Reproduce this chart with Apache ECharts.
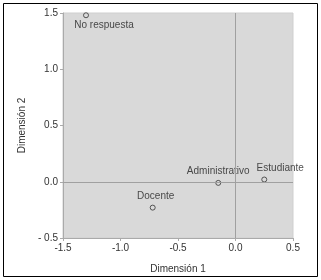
<!DOCTYPE html>
<html>
<head>
<meta charset="utf-8">
<script src="https://cdn.jsdelivr.net/npm/echarts@6/dist/echarts.min.js"></script>
<style>
  html, body { margin: 0; padding: 0; background: #fff; }
  #main { width: 321px; height: 280px; }
</style>
</head>
<body>
<div id="main"></div>
<script>
// categorias y coordenadas (dimension 1, dimension 2)
var categorias = ["No respuesta", "Docente", "Administrativo", "Estudiante"];
var dim1 = [-1.30, -0.72, -0.15, 0.25];
var dim2 = [1.48, -0.23, -0.01, 0.02];
// desplazamiento de cada etiqueta respecto al punto
var labelPos = ["bottom", "top", "top", "top"];
var labelOff = [[18, -1], [3, 0], [0, -1], [16, 0]];

var myChart = echarts.init(document.getElementById("main"));
var font = "Liberation Sans, Arial, sans-serif";

var puntos = categorias.map(function (c, i) {
  return {
    name: c,
    value: [dim1[i], dim2[i]],
    label: { position: labelPos[i], offset: labelOff[i] },
  };
});

var option = {
  animation: false,
  grid: {
    left: 63,
    right: 28,
    top: 13,
    bottom: 42,
    show: true,
    backgroundColor: "#d9d9d9",
    borderColor: "#cfcfcf",
    borderWidth: 1,
  },
  graphic: [
    {
      type: "rect",
      shape: { x: 3.5, y: 3.5, width: 314, height: 273 },
      style: { fill: "none", stroke: "#000", lineWidth: 1 },
      silent: true,
    },
  ],
  xAxis: {
    type: "value",
    min: -1.5,
    max: 0.5,
    interval: 0.5,
    name: "Dimensión 1",
    nameLocation: "middle",
    nameGap: 26,
    nameTextStyle: { color: "#333", fontSize: 10, fontFamily: font },
    axisLine: { show: true, onZero: false, lineStyle: { color: "#aaa" } },
    axisTick: { show: true, length: 3, lineStyle: { color: "#aaa" } },
    axisLabel: {
      color: "#333",
      fontSize: 10,
      fontFamily: font,
      margin: 5,
      formatter: function (v) { return v.toFixed(1); },
    },
    splitLine: { show: false },
  },
  yAxis: {
    type: "value",
    min: -0.5,
    max: 1.5,
    interval: 0.5,
    name: "Dimensión 2",
    nameLocation: "middle",
    nameGap: 31,
    nameTextStyle: { color: "#333", fontSize: 10, fontFamily: font },
    axisLine: { show: true, onZero: false, lineStyle: { color: "#aaa" } },
    axisTick: { show: true, length: 3, lineStyle: { color: "#aaa" } },
    axisLabel: {
      color: "#333",
      fontSize: 10,
      fontFamily: font,
      margin: 5,
      formatter: function (v) {
        return v < 0 ? "- " + Math.abs(v).toFixed(1) : v.toFixed(1);
      },
    },
    splitLine: { show: false },
  },
  series: [
    {
      type: "scatter",
      data: puntos,
      symbol: "circle",
      symbolSize: 5,
      itemStyle: { color: "#d9d9d9", borderColor: "#333", borderWidth: 1 },
      label: {
        show: true,
        formatter: "{b}",
        color: "#222",
        fontSize: 10,
        fontFamily: font,
        distance: 3,
      },
      markLine: {
        silent: true,
        symbol: "none",
        label: { show: false },
        lineStyle: { color: "#a0a0a0", type: "solid", width: 1 },
        data: [{ xAxis: 0 }, { yAxis: 0 }],
      },
      z: 3,
    },
  ],
};
myChart.setOption(option);
window.addEventListener("resize", () => {
  myChart.resize();
});
</script>
</body>
</html>
